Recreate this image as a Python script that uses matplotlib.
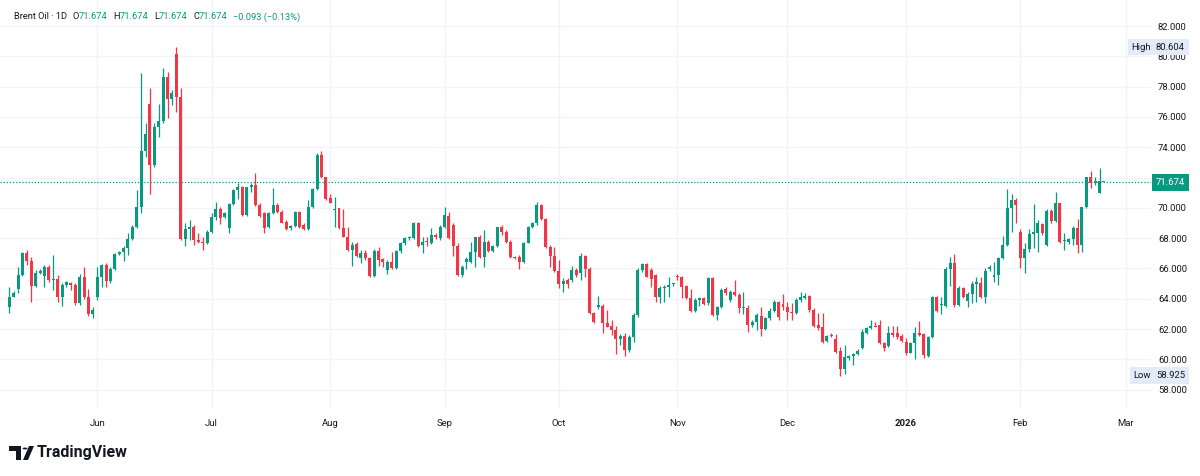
import numpy as np
import pandas as pd
import matplotlib
matplotlib.use("Agg")
import matplotlib.pyplot as plt
import matplotlib.transforms as mtransforms
from matplotlib.offsetbox import TextArea, HPacker, AnchoredOffsetbox
from matplotlib.patches import Polygon, Circle

plt.rcParams["font.family"] = ["Roboto", "DejaVu Sans"]

# Brent Oil, daily candles (sessions Sun-Fri)
opens = [63.43, 64.13, 64.62, 65.57, 66.99, 66.51, 64.84, 65.68, 65.50, 66.12,
         65.26, 65.28, 64.09, 64.90, 65.06, 64.90, 63.69, 65.41, 64.09, 62.99,
         64.09, 65.41, 66.22, 65.19, 65.94, 66.95, 67.08, 67.33, 67.92, 68.75,
         70.08, 73.77, 76.85, 72.83, 75.36, 75.75, 78.61, 77.16, 80.15, 77.34,
         67.92, 68.58, 68.71, 67.88, 67.77, 67.70, 68.42, 69.42, 69.90, 69.42,
         68.64, 70.23, 71.18, 71.40, 69.53, 71.35, 71.51, 70.19, 69.64, 68.71,
         69.64, 70.19, 69.75, 69.09, 68.64, 68.80, 69.75, 68.86, 68.58, 70.03,
         71.22, 73.49, 72.01, 70.63, 69.86, 69.97, 68.64, 68.09, 67.22, 67.61,
         66.66, 66.99, 66.66, 65.50, 67.17, 66.60, 65.90, 66.45, 66.01, 67.17,
         67.66, 68.00, 67.99, 69.02, 67.55, 67.77, 67.66, 68.20, 67.99, 68.75,
         69.46, 68.86, 67.48, 65.57, 66.45, 66.45, 67.10, 68.05, 66.73, 67.77,
         67.17, 67.48, 68.71, 68.42, 67.77, 66.77, 66.77, 66.45, 67.70, 68.71,
         68.97, 70.19, 69.24, 67.44, 66.82, 65.85, 64.95, 65.25, 65.24, 65.92,
         65.67, 66.82, 65.94, 63.03, 63.43, 63.52, 62.42, 62.20, 61.93, 61.32,
         61.54, 60.61, 61.49, 62.92, 65.89, 66.29, 65.90, 65.56, 64.09, 64.68,
         64.75, 64.95, 65.50, 65.41, 64.84, 64.02, 63.21, 63.92, 64.02, 63.69,
         65.34, 62.92, 63.43, 64.62, 63.91, 64.46, 64.24, 63.38, 63.36, 62.26,
         62.48, 62.86, 61.98, 62.70, 63.21, 63.80, 63.65, 63.47, 63.14, 63.08,
         63.91, 64.02, 64.18, 63.25, 62.26, 62.11, 61.23, 61.54, 61.32, 60.57,
         59.34, 60.06, 60.22, 60.35, 60.72, 61.76, 62.04, 62.20, 62.26, 61.10,
         60.88, 61.76, 61.71, 61.54, 61.16, 60.44, 61.10, 61.76, 61.67, 60.22,
         61.45, 64.13, 63.58, 63.52, 65.94, 66.38, 63.58, 64.68, 63.87, 64.31,
         65.00, 65.06, 64.13, 65.94, 65.41, 65.57, 66.66, 67.54, 69.96, 70.51,
         68.42, 66.66, 67.26, 68.30, 68.31, 68.93, 67.54, 69.81, 69.15, 70.30,
         67.83, 67.77, 67.92, 68.64, 67.54, 70.03, 72.01, 71.62, 71.00, 71.674]
highs = [64.75, 64.53, 66.12, 67.10, 67.21, 66.77, 65.90, 65.94, 66.23, 66.23,
         66.88, 65.57, 65.01, 65.19, 65.12, 65.01, 65.63, 66.07, 64.62, 63.43,
         66.12, 66.30, 66.34, 66.07, 67.04, 67.17, 67.48, 68.31, 68.86, 71.18,
         78.88, 75.62, 77.89, 75.58, 76.85, 79.21, 78.99, 77.78, 80.604, 77.89,
         69.02, 69.20, 68.86, 68.31, 68.09, 68.53, 69.64, 70.41, 70.08, 69.69,
         70.30, 71.22, 71.62, 71.44, 71.40, 71.62, 72.28, 70.30, 69.69, 69.69,
         71.29, 70.30, 69.86, 69.20, 68.86, 69.82, 69.82, 68.97, 70.52, 71.29,
         73.60, 73.77, 72.05, 70.91, 70.74, 70.01, 69.90, 68.75, 67.77, 67.77,
         67.21, 67.21, 66.77, 67.26, 67.43, 66.66, 66.56, 67.10, 67.21, 67.77,
         68.09, 68.14, 69.09, 69.09, 68.09, 68.09, 68.64, 68.31, 68.86, 70.08,
         69.75, 68.97, 67.66, 66.23, 66.77, 67.77, 68.09, 68.20, 68.53, 67.88,
         67.55, 68.75, 68.86, 68.53, 67.88, 66.82, 66.88, 67.77, 68.80, 69.09,
         70.41, 70.25, 69.31, 67.55, 67.44, 66.56, 65.35, 65.35, 66.16, 66.00,
         66.99, 66.88, 66.07, 63.14, 64.18, 63.65, 63.25, 62.60, 62.20, 61.67,
         61.71, 61.60, 63.03, 66.00, 66.34, 66.34, 66.00, 65.63, 64.84, 64.90,
         65.45, 65.06, 65.60, 65.50, 64.90, 64.62, 64.02, 64.13, 64.13, 65.41,
         65.41, 63.52, 64.68, 64.75, 64.57, 65.23, 64.35, 64.46, 63.58, 62.60,
         63.03, 63.47, 62.81, 63.36, 63.91, 63.87, 64.31, 63.80, 63.74, 64.02,
         64.46, 64.40, 64.24, 63.36, 63.03, 63.03, 61.60, 61.71, 61.67, 60.83,
         60.94, 60.28, 60.44, 60.66, 61.98, 62.11, 62.59, 62.48, 62.59, 61.16,
         62.20, 62.20, 62.20, 61.67, 61.38, 61.16, 62.11, 62.55, 61.76, 61.54,
         64.18, 64.18, 64.13, 66.07, 66.73, 66.95, 64.84, 64.79, 64.46, 65.19,
         65.45, 65.45, 66.00, 66.20, 66.45, 66.77, 68.14, 71.22, 70.91, 70.62,
         68.58, 67.66, 68.58, 70.25, 69.20, 68.97, 69.90, 69.90, 71.07, 70.34,
         68.31, 67.99, 68.80, 69.24, 70.08, 72.05, 72.45, 72.01, 72.60, 71.674]
lows = [63.08, 64.09, 64.40, 65.50, 66.22, 63.80, 64.75, 65.63, 64.75, 65.12,
        64.57, 63.80, 63.52, 64.75, 64.60, 63.58, 63.58, 63.96, 62.86, 62.70,
        63.92, 64.80, 64.75, 65.01, 65.90, 66.88, 66.51, 66.88, 67.88, 68.64,
        69.64, 73.38, 70.91, 72.72, 74.70, 75.62, 75.90, 76.79, 76.35, 67.88,
        67.48, 67.88, 67.55, 67.66, 67.22, 67.60, 68.31, 69.20, 68.93, 69.31,
        68.36, 70.19, 70.56, 69.46, 69.46, 71.07, 70.12, 69.42, 68.36, 68.64,
        69.58, 69.68, 68.97, 68.53, 68.53, 68.75, 68.64, 68.53, 68.53, 69.97,
        71.18, 71.95, 70.52, 70.30, 68.75, 68.58, 68.05, 67.17, 66.16, 66.77,
        66.38, 66.55, 65.46, 65.46, 66.16, 66.12, 65.63, 65.94, 65.94, 67.00,
        67.55, 67.90, 67.92, 67.44, 67.00, 67.48, 67.61, 67.92, 67.88, 68.64,
        67.92, 66.82, 65.50, 65.46, 65.94, 66.34, 66.12, 66.66, 66.12, 67.10,
        67.10, 67.44, 68.20, 67.66, 66.66, 66.60, 65.94, 66.38, 67.66, 68.64,
        68.86, 69.20, 67.33, 66.12, 65.79, 64.68, 64.46, 64.68, 65.13, 65.46,
        65.23, 65.45, 62.99, 62.42, 63.30, 61.76, 62.11, 61.60, 60.35, 60.94,
        60.22, 60.50, 61.16, 62.81, 65.78, 65.41, 64.80, 63.80, 63.74, 63.80,
        64.13, 64.84, 65.23, 64.02, 63.96, 63.14, 63.14, 63.52, 63.58, 63.58,
        62.86, 62.59, 63.36, 64.24, 63.80, 64.18, 63.03, 63.00, 61.82, 62.15,
        61.93, 61.54, 61.93, 62.59, 63.14, 62.59, 63.25, 62.59, 62.59, 62.99,
        63.80, 63.96, 63.14, 62.11, 61.93, 61.10, 61.16, 61.45, 60.39, 58.925,
        59.03, 59.95, 59.62, 60.28, 60.66, 61.67, 61.98, 62.11, 61.01, 60.57,
        60.79, 61.49, 61.32, 61.16, 60.28, 60.39, 60.00, 61.54, 60.06, 60.13,
        61.38, 63.14, 62.99, 63.47, 64.84, 63.47, 63.52, 64.02, 63.43, 63.69,
        63.80, 64.02, 63.69, 65.85, 65.12, 64.90, 66.60, 67.48, 68.42, 68.97,
        66.00, 65.72, 67.10, 67.33, 67.10, 68.20, 67.48, 69.02, 69.09, 67.70,
        67.22, 67.61, 67.55, 66.99, 67.10, 69.97, 71.29, 71.51, 70.95, 71.674]
closes = [64.09, 64.40, 65.57, 66.99, 66.51, 64.84, 65.72, 65.85, 66.12, 65.24,
          65.30, 64.09, 64.90, 65.12, 64.90, 63.69, 65.41, 64.09, 62.99, 63.25,
          65.41, 66.22, 65.19, 65.94, 66.95, 67.08, 67.33, 67.92, 68.75, 70.08,
          73.77, 74.87, 72.83, 75.36, 75.75, 78.61, 77.16, 77.60, 77.34, 67.92,
          68.58, 68.71, 67.88, 67.77, 67.70, 68.42, 69.42, 69.90, 69.31, 69.64,
          70.23, 71.18, 71.40, 69.53, 71.35, 71.51, 70.19, 69.46, 68.64, 69.64,
          70.19, 69.75, 69.02, 68.58, 68.80, 69.75, 68.75, 68.58, 70.03, 71.22,
          73.49, 72.01, 70.56, 70.34, 69.90, 68.64, 68.09, 67.22, 67.55, 66.82,
          66.99, 66.66, 65.50, 67.17, 66.58, 66.45, 66.45, 66.01, 67.17, 67.66,
          67.99, 68.05, 69.02, 67.48, 67.77, 67.72, 68.20, 68.05, 68.75, 69.53,
          67.99, 67.48, 65.57, 66.12, 66.60, 67.10, 68.05, 66.73, 67.77, 67.17,
          67.48, 68.71, 68.42, 67.77, 66.73, 66.66, 66.45, 67.70, 68.71, 68.97,
          70.19, 69.24, 67.44, 66.82, 65.85, 64.95, 65.20, 64.95, 65.89, 65.56,
          66.82, 65.94, 63.03, 62.48, 63.58, 62.37, 62.15, 61.93, 61.32, 61.54,
          60.61, 61.49, 62.92, 65.89, 66.29, 65.45, 65.30, 64.09, 64.68, 64.79,
          64.90, 64.97, 65.40, 64.79, 64.02, 63.21, 63.91, 64.02, 63.65, 65.34,
          62.92, 63.43, 64.57, 64.40, 64.46, 64.24, 63.36, 63.45, 62.26, 62.48,
          62.92, 61.98, 62.70, 63.21, 63.80, 62.77, 63.47, 63.14, 63.08, 63.91,
          64.09, 64.18, 63.25, 62.20, 62.04, 61.16, 61.54, 61.52, 60.50, 59.34,
          60.13, 60.22, 60.35, 60.57, 61.82, 62.04, 62.20, 62.15, 61.05, 60.72,
          61.76, 61.60, 61.45, 61.23, 60.39, 61.10, 61.76, 61.60, 60.28, 61.45,
          64.09, 63.20, 63.63, 65.94, 66.38, 63.58, 64.68, 64.13, 64.31, 64.97,
          65.06, 64.13, 65.85, 66.12, 65.57, 66.66, 67.54, 69.96, 70.51, 70.20,
          66.66, 67.26, 68.27, 68.36, 68.97, 68.31, 69.81, 69.15, 70.30, 67.77,
          67.85, 67.92, 68.64, 67.54, 70.03, 72.01, 71.62, 71.79, 71.767, 71.674]

first_session = "2025-05-08"
symbol_title = "Brent Oil \u00b7 1D"
change_text = "\u22120.093 (\u22120.13%)"
price_ticks = list(range(58, 83, 2))

GREEN = "#089981"
RED = "#f23645"
TXT = "#131722"
GRID = "#f0f3fa"
FS = 6.8

opens, highs, lows, closes = map(np.array, (opens, highs, lows, closes))
n = len(closes)
x = np.arange(n)

# sessions: every day except Saturday
days = pd.date_range(first_session, periods=340, freq="D")
sessions = days[days.dayofweek != 5]
month_key = sessions.year * 12 + sessions.month
starts = np.where(np.diff(month_key) != 0)[0] + 1
starts = starts[starts < 265]
tick_lbls = [str(sessions[i].year) if sessions[i].month == 1 else sessions[i].strftime("%b")
             for i in starts]

W, H = 1200, 476
fig = plt.figure(figsize=(W / 100, H / 100), dpi=100)
pane_right, pane_bottom = 1151, 408
ax = fig.add_axes([0, (H - pane_bottom) / H, pane_right / W, pane_bottom / H])

step, x0 = 4.396, 9.3
ax.set_xlim(-x0 / step, (pane_right - x0) / step)
ppu = 15.15
ax.set_ylim(82 - (pane_bottom - 26) / ppu, 82 + 26 / ppu)

up = closes >= opens
cols = np.where(up, GREEN, RED)
ax.vlines(x, lows, highs, colors=cols, lw=0.9, zorder=3)
body_lo = np.minimum(opens, closes)
body_h = np.maximum(np.abs(closes - opens), 0.07)
ax.bar(x, body_h, bottom=body_lo, width=0.68, color=cols, linewidth=0, zorder=4)

# last price line
last = closes[-1]
ax.axhline(last, color=GREEN, lw=0.9, ls=(0, (1, 1.5)), zorder=2)

ax.set_xticks(starts)
ax.set_xticklabels(tick_lbls)
for lbl in ax.get_xticklabels():
    if lbl.get_text().isdigit():
        lbl.set_fontweight("bold")
ax.set_yticks(price_ticks)
ax.set_yticklabels([f"{v:.3f}" for v in price_ticks])
ax.yaxis.tick_right()
ax.tick_params(axis="both", length=0, labelsize=FS, labelcolor=TXT)
ax.tick_params(axis="y", pad=5)
ax.tick_params(axis="x", pad=8)
ax.grid(True, color=GRID, lw=1, zorder=0)
ax.set_axisbelow(True)
for s in ax.spines.values():
    s.set_visible(False)

blend = mtransforms.blended_transform_factory(ax.transAxes, ax.transData)
lx = 1156 / pane_right
ax.text(lx, last, f"{last:.3f}", transform=blend, color="white", fontsize=FS,
        ha="left", va="center", clip_on=False, zorder=6,
        bbox=dict(boxstyle="square,pad=0.4", fc=GREEN, ec="none"))

hi, lo = highs.max(), lows.min()
for word, val in (("High", hi), ("Low", lo)):
    ax.text(lx, val, f"{val:.3f}", transform=blend, color=TXT, fontsize=FS,
            ha="left", va="center", clip_on=False, zorder=6,
            bbox=dict(boxstyle="square,pad=0.4", fc="#e3ebf6", ec="none"))
    ax.text(lx - 5 / pane_right, val, word, transform=blend, color=TXT, fontsize=FS,
            ha="right", va="center", clip_on=False, zorder=6,
            bbox=dict(boxstyle="square,pad=0.4", fc="#e3ebf6", ec="none"))

# legend line top-left
LFS = 6.7


def piece(t, c):
    return TextArea(t, textprops=dict(color=c, fontsize=LFS))


pairs = [HPacker(children=[piece(k, TXT), piece(f"{v:.3f}", GREEN)], sep=0, pad=0)
         for k, v in zip("OHLC", (opens[-1], highs[-1], lows[-1], closes[-1]))]
row = HPacker(children=[piece(symbol_title, TXT)] + pairs + [piece(change_text, GREEN)],
              sep=4, pad=0)
fig.add_artist(AnchoredOffsetbox(loc="upper left", child=row, frameon=False, pad=0,
                                 borderpad=0, bbox_to_anchor=(14 / W, 1 - 12 / H),
                                 bbox_transform=fig.transFigure))


# TradingView logo
def px(xp, yp):
    return (xp / W, 1 - yp / H)


tf = fig.transFigure
fig.add_artist(Polygon([px(9, 446), px(21, 446), px(21, 460), px(16, 460),
                        px(16, 451), px(9, 451)], closed=True, fc=TXT, ec="none",
                       transform=tf))
fig.add_artist(Circle(px(25, 448.5), 2.4 / W, fc=TXT, ec="none", transform=tf))
fig.add_artist(Polygon([px(29, 446), px(34, 446), px(28, 460), px(23, 460)],
                       closed=True, fc=TXT, ec="none", transform=tf))
fig.text(37 / W, 1 - 453 / H, "TradingView", fontsize=11.5, fontweight="bold",
         color=TXT, ha="left", va="center")

fig.savefig("out.png", dpi=100, facecolor="white")
